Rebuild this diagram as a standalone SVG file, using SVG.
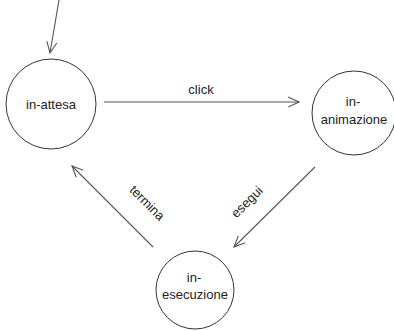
<svg xmlns="http://www.w3.org/2000/svg" width="394" height="331" viewBox="0 0 394 331">
<style>
.n{fill:#fff;stroke:#333;stroke-width:1}
.t{font-family:"Liberation Sans",Arial,sans-serif;font-size:13px;fill:#222;text-anchor:middle}
.c{fill:none;stroke:#555;stroke-width:1.1}
</style>
<defs>
<marker id="a" viewBox="0 0 12 12" refX="11" refY="6" markerWidth="12" markerHeight="12" markerUnits="userSpaceOnUse" orient="auto">
<path d="M0,1 L11,6 L0,11" fill="none" stroke="#555" stroke-width="1.1"/>
</marker>
</defs>
<rect width="394" height="331" fill="#fff"/>
<g id="in-attesa"><circle class="n" cx="51" cy="104" r="45"/><text class="t" x="51" y="109">in-attesa</text></g>
<g id="in-animazione"><circle class="n" cx="354" cy="113" r="42"/><text class="t" x="353" y="106">in-</text><text class="t" x="354" y="124">animazione</text></g>
<g id="in-esecuzione"><circle class="n" cx="195" cy="290" r="39"/><text class="t" x="194" y="282">in-</text><text class="t" x="195" y="299">esecuzione</text></g>
<g id="connectors">
<line class="c" x1="59" y1="0" x2="50" y2="53" marker-end="url(#a)"/>
<line class="c" x1="104" y1="102" x2="299" y2="102" marker-end="url(#a)"/>
<text class="t" x="201" y="94">click</text>
<line class="c" x1="315" y1="167" x2="234" y2="247" marker-end="url(#a)"/>
<text class="t" transform="translate(250,205) rotate(-45)">esegui</text>
<line class="c" x1="153" y1="247" x2="72" y2="166" marker-end="url(#a)"/>
<text class="t" transform="translate(144,206) rotate(45)">termina</text>
</g>
</svg>
